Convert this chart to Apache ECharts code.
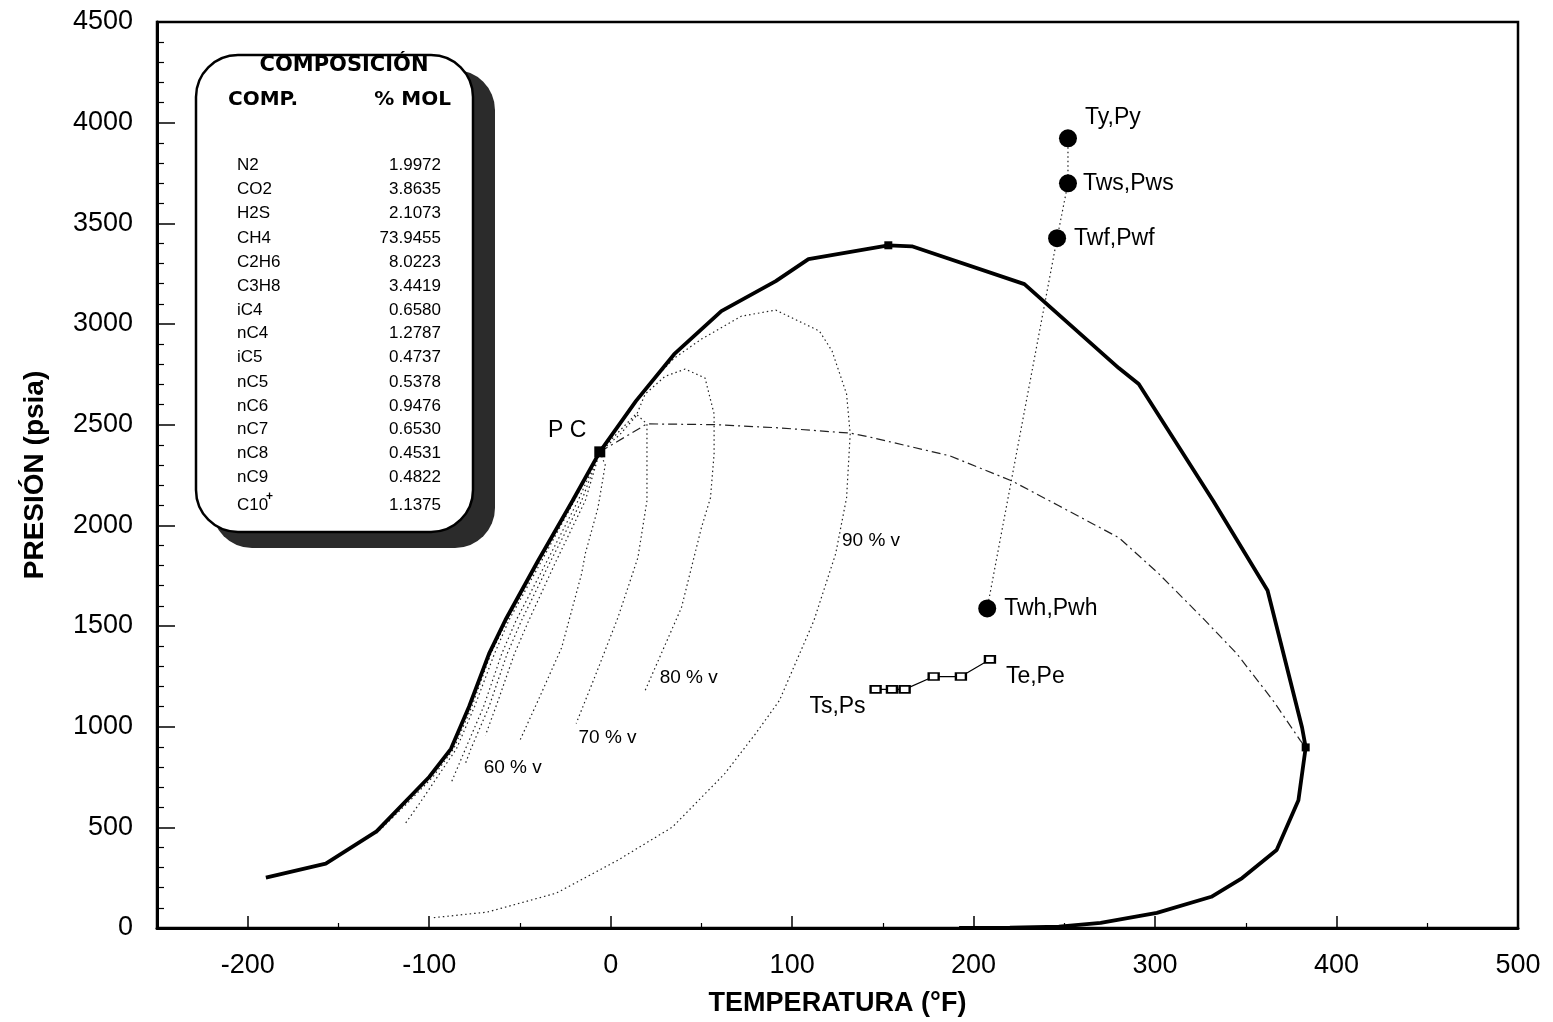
<!DOCTYPE html>
<html>
<head>
<meta charset="utf-8">
<title>Envolvente de fases</title>
<script src="https://cdn.jsdelivr.net/npm/echarts@6/dist/echarts.min.js"></script>
<style>
  html, body { margin: 0; padding: 0; background: #fff; }
  #main { width: 1553px; height: 1022px; }
</style>
</head>
<body>
<div id="main"></div>
<script>
// envolvente (burbuja + rocio), [T °F, P psia]
var envelope = [
  [-190, 250], [-157, 320], [-129, 480], [-100, 750], [-88, 890], [-78, 1100],
  [-67, 1363], [-58, 1530], [-40, 1824], [-21, 2122], [-6, 2365], [14, 2618],
  [35, 2850], [61, 3064], [91, 3213], [109, 3322], [153, 3391], [166, 3386],
  [228, 3198], [280, 2781], [291, 2702], [332, 2122], [362, 1676], [381, 996],
  [383, 897], [379, 635], [367, 387], [348, 248], [331, 155], [301, 75],
  [270, 25], [247, 7], [220, 2], [192, 0]
];
var envMarks = [[-6, 2365], [153, 3391], [383, 897]];

var q90 = [[-6, 2365], [5, 2500], [20, 2690], [35, 2830], [50, 2925], [72, 3039], [91, 3069],
  [115, 2965], [122, 2866], [130, 2652], [132, 2454], [130, 2137], [124, 1859], [112, 1527],
  [93, 1130], [80, 967], [63, 768], [34, 501], [4, 337], [-30, 173], [-68, 79], [-99, 50]];
var q80 = [[-6, 2365], [5, 2450], [14, 2543], [19, 2652], [30, 2740], [41, 2776], [52, 2732],
  [57, 2553], [57, 2355], [55, 2137], [50, 1988], [39, 1591], [19, 1180]];
var q70 = [[-6, 2365], [5, 2470], [14, 2553], [20, 2504], [20, 2221], [20, 2122], [15, 1839],
  [4, 1542], [-8, 1264], [-19, 1016]];
var q60 = [[-6, 2365], [-3, 2300], [-7, 2087], [-14, 1859], [-16, 1760], [-27, 1393],
  [-40, 1130], [-50, 932]];
var qLow = [
  [[-6, 2365], [-14, 2122], [-30, 1824], [-45, 1530], [-53, 1363], [-62, 1130], [-69, 957]],
  [[-6, 2365], [-16, 2122], [-33, 1824], [-49, 1530], [-57, 1363], [-67, 1100], [-77, 890], [-80, 818]],
  [[-6, 2365], [-18, 2122], [-35, 1824], [-52, 1530], [-60, 1363], [-70, 1100], [-80, 890], [-88, 719]],
  [[-6, 2365], [-20, 2122], [-38, 1824], [-56, 1530], [-64, 1363], [-75, 1100], [-85, 890], [-97, 730], [-106, 610], [-113, 521]],
  [[-6, 2365], [-20.5, 2122], [-39, 1824], [-57, 1530], [-66, 1363], [-76.5, 1100], [-86.5, 890], [-98, 750], [-112, 620], [-129, 471]]
];
var dashDot = [[-6, 2365], [10, 2450], [20, 2504], [58, 2500], [93, 2484], [132, 2458],
  [142, 2440], [187, 2345], [221, 2221], [247, 2097], [280, 1939], [302, 1760],
  [326, 1542], [345, 1363], [365, 1130], [380, 932], [383, 897]];

var wellNames = ['Ty,Py', 'Tws,Pws', 'Twf,Pwf', 'Twh,Pwh'];
var wellPts = [[252, 3922], [252, 3699], [246, 3426], [207.5, 1587]];
var sepPts = [[146, 1185], [155, 1185], [162, 1185], [178, 1249], [193, 1249], [209, 1334]];

var noteNames = ['P C', '90 % v', '80 % v', '70 % v', '60 % v', 'Te,Pe', 'Ts,Ps'];
var notePts = [[-24, 2469], [143.5, 1924], [43, 1244], [-1.7, 947], [-54, 798], [234, 1249], [125, 1100]];

var compNames = ['N2', 'CO2', 'H2S', 'CH4', 'C2H6', 'C3H8', 'iC4', 'nC4', 'iC5', 'nC5', 'nC6', 'nC7', 'nC8', 'nC9', 'C10'];
var compValues = ['1.9972', '3.8635', '2.1073', '73.9455', '8.0223', '3.4419', '0.6580', '1.2787',
  '0.4737', '0.5378', '0.9476', '0.6530', '0.4531', '0.4822', '1.1375'];

var xLabels = [-200, -100, 0, 100, 200, 300, 400, 500];
var xMajor = [-200, -100, 0, 100, 200, 300, 400];
var xMinor = [-150, -50, 50, 150, 250, 350, 450];

var chartDom = document.getElementById('main');
var myChart = echarts.init(chartDom);
var option;

var font = 'Liberation Sans, Arial, sans-serif';
var dotStyle = { color: '#222', width: 1.2, type: [1.5, 3] };

var series = [];
function addLine(data, lineStyle, z) {
  series.push({
    type: 'line', data: data, showSymbol: false, symbol: 'none',
    lineStyle: lineStyle, z: z || 2, silent: true
  });
}

[q90, q80, q70, q60].concat(qLow).forEach(function (d) { addLine(d, dotStyle); });
addLine(dashDot, { color: '#222', width: 1.2, type: [9, 4, 2, 4] });
addLine(wellPts, { color: '#222', width: 1.2, type: [1.5, 3] });
addLine(envelope, { color: '#000', width: 3.8 }, 5);

series.push({
  type: 'scatter', symbol: 'rect', z: 6,
  data: envMarks.map(function (p, i) {
    return { value: p, symbolSize: i === 0 ? 11 : 8 };
  }),
  itemStyle: { color: '#000', opacity: 1 }
});

series.push({
  type: 'scatter', symbolSize: 18, z: 6,
  itemStyle: { color: '#000', opacity: 1 },
  data: wellPts.map(function (p, i) {
    var lab = { show: true, formatter: wellNames[i], fontSize: 23, color: '#000', fontFamily: font };
    if (i === 0) {
      lab.position = [26, -12];
      lab.align = 'left';
      lab.verticalAlign = 'middle';
    } else {
      lab.position = 'right';
      lab.distance = i === 1 ? 6 : 8;
    }
    return { value: p, label: lab };
  })
});

series.push({
  type: 'line', data: sepPts, symbol: 'emptyRect', symbolSize: [10, 7], z: 6,
  lineStyle: { color: '#000', width: 1.2 },
  itemStyle: { color: '#000', borderColor: '#000', borderWidth: 1.2 }
});

series.push({
  type: 'scatter', symbolSize: 1, z: 7,
  itemStyle: { color: 'rgba(0,0,0,0)', opacity: 1 },
  data: notePts.map(function (p, i) {
    var big = i === 0 || i >= 5;
    return {
      value: p,
      label: {
        show: true, position: 'inside', formatter: noteNames[i],
        fontSize: big ? 23 : 19, color: '#000', fontFamily: font
      }
    };
  })
});

// cuadro de composicion
var graphics = [
  { type: 'rect', z: 20, shape: { x: 212, y: 70, width: 283, height: 478, r: 40 }, style: { fill: '#2b2b2b' } },
  { type: 'rect', z: 21, shape: { x: 196, y: 55, width: 277, height: 477, r: 42 }, style: { fill: '#fff', stroke: '#000', lineWidth: 2.5 } },
  { type: 'text', z: 22, x: 344, y: 66, style: { text: 'COMPOSICIÓN', font: 'bold 21px "DejaVu Sans"', fill: '#000', align: 'center', verticalAlign: 'middle' } },
  { type: 'text', z: 22, x: 228, y: 100, style: { text: 'COMP.', font: 'bold 20px "DejaVu Sans"', fill: '#000', align: 'left', verticalAlign: 'middle' } },
  { type: 'text', z: 22, x: 451, y: 100, style: { text: '% MOL', font: 'bold 20px "DejaVu Sans"', fill: '#000', align: 'right', verticalAlign: 'middle' } }
];
var rowY = [165, 189, 213, 238, 262, 286, 310, 333, 357, 382, 406, 429, 453, 477, 505];
compNames.forEach(function (n, i) {
  graphics.push({ type: 'text', z: 22, x: 237, y: rowY[i], style: { text: n, font: '17px ' + font, fill: '#000', align: 'left', verticalAlign: 'middle' } });
  graphics.push({ type: 'text', z: 22, x: 441, y: rowY[i], style: { text: compValues[i], font: '17px ' + font, fill: '#000', align: 'right', verticalAlign: 'middle' } });
});
graphics.push({ type: 'text', z: 22, x: 266, y: 497, style: { text: '+', font: 'bold 12px ' + font, fill: '#000', align: 'left', verticalAlign: 'middle' } });

option = {
  animation: false,
  backgroundColor: '#fff',
  grid: { left: 157, right: 35, top: 22, bottom: 94, show: true, borderColor: '#000', borderWidth: 2.5, backgroundColor: 'transparent' },
  xAxis: [
    {
      type: 'value', min: -250, max: 500,
      name: 'TEMPERATURA (°F)', nameLocation: 'middle', nameGap: 62,
      nameTextStyle: { fontSize: 27, fontWeight: 'bold', color: '#000', fontFamily: font },
      axisLine: { onZero: false, lineStyle: { color: '#000', width: 3 } },
      axisTick: { inside: true, length: 12, customValues: xMajor, lineStyle: { color: '#000', width: 1.5 } },
      axisLabel: { customValues: xLabels, fontSize: 27, color: '#000', margin: 24, fontFamily: font },
      splitLine: { show: false }
    },
    {
      type: 'value', min: -250, max: 500, position: 'bottom',
      axisLine: { show: false, onZero: false },
      axisTick: { inside: true, length: 5, customValues: xMinor, lineStyle: { color: '#000', width: 1.2 } },
      axisLabel: { show: false },
      splitLine: { show: false }
    }
  ],
  yAxis: {
    type: 'value', min: 0, max: 4500, interval: 500,
    name: 'PRESIÓN (psia)', nameLocation: 'middle', nameGap: 108,
    nameTextStyle: { fontSize: 28, fontWeight: 'bold', color: '#000', fontFamily: font },
    axisLine: { onZero: false, lineStyle: { color: '#000', width: 3 } },
    axisTick: { inside: true, length: 18, lineStyle: { color: '#000', width: 1.5 } },
    minorTick: { show: true, splitNumber: 5, length: 7, lineStyle: { color: '#000', width: 1.2 } },
    axisLabel: { fontSize: 27, color: '#000', margin: 24, fontFamily: font, formatter: function (v) { return String(v); } },
    splitLine: { show: false }
  },
  graphic: graphics,
  series: series
};

option && myChart.setOption(option);
</script>
</body>
</html>
